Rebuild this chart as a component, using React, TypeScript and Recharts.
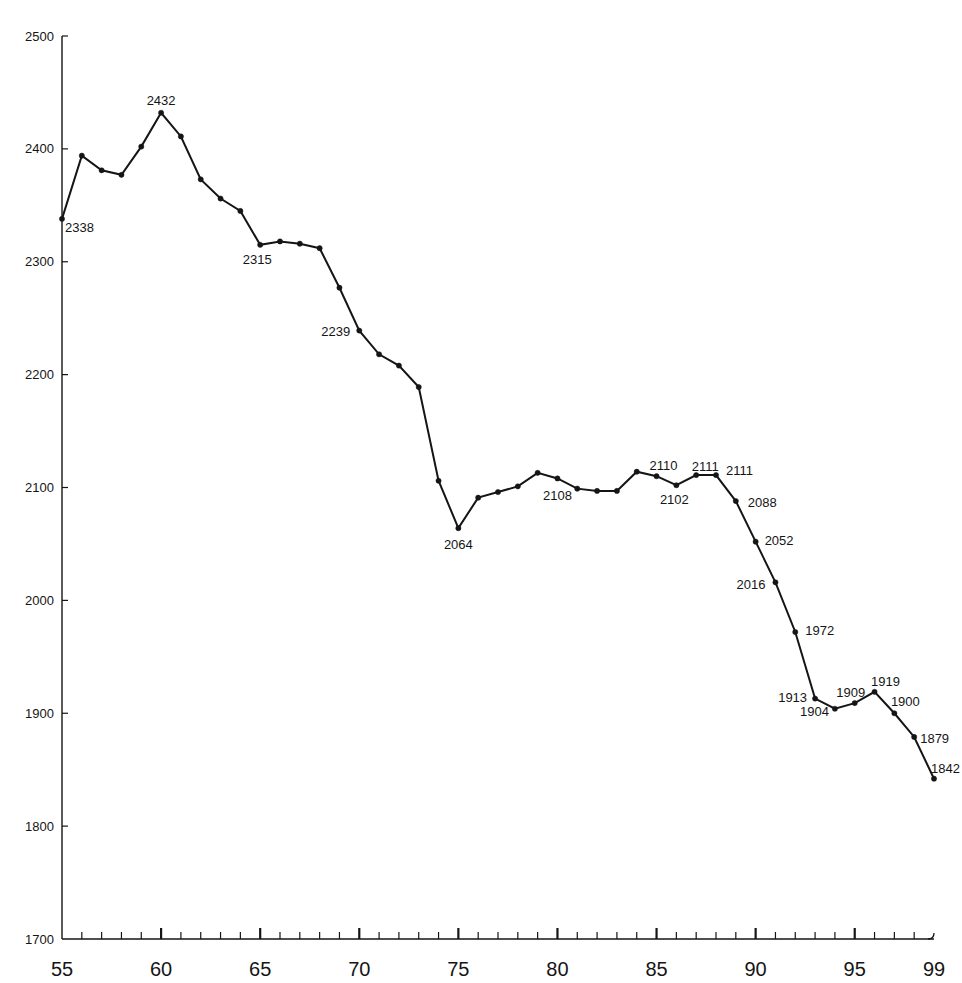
import { LineChart, Line, XAxis, YAxis, LabelList } from 'recharts';

const years = [
  55, 56, 57, 58, 59, 60, 61, 62, 63, 64,
  65, 66, 67, 68, 69, 70, 71, 72, 73, 74,
  75, 76, 77, 78, 79, 80, 81, 82, 83, 84,
  85, 86, 87, 88, 89, 90, 91, 92, 93, 94,
  95, 96, 97, 98, 99,
];

const values = [
  2338, 2394, 2381, 2377, 2402, 2432, 2411, 2373, 2356, 2345,
  2315, 2318, 2316, 2312, 2277, 2239, 2218, 2208, 2189, 2106,
  2064, 2091, 2096, 2101, 2113, 2108, 2099, 2097, 2097, 2114,
  2110, 2102, 2111, 2111, 2088, 2052, 2016, 1972, 1913, 1904,
  1909, 1919, 1900, 1879, 1842,
];

// years that carry a value label in the original
const labelledYears = [55, 60, 65, 70, 75, 80, 85, 86, 87, 88, 89, 90, 91, 92, 93, 94, 95, 96, 97, 98, 99];

const yTicks = [1700, 1800, 1900, 2000, 2100, 2200, 2300, 2400, 2500];
const xTickLabels = [55, 60, 65, 70, 75, 80, 85, 90, 95, 99];

const data = years.map((year, i) => ({ year, value: values[i] }));

const FONT = '"Liberation Sans", Arial, sans-serif';
const INK = '#151515';

// where each value label sits relative to its point: [dx, dy, anchor]
const placement: Record<number, [number, number, string]> = {
  55: [3, 9, 'start'],
  60: [0, -12, 'middle'],
  65: [-3, 15, 'middle'],
  70: [-9, 1, 'end'],
  75: [0, 16, 'middle'],
  80: [0, 17, 'middle'],
  85: [7, -11, 'middle'],
  86: [-2, 14, 'middle'],
  87: [9, -9, 'middle'],
  88: [10, -5, 'start'],
  89: [12, 1, 'start'],
  90: [9, -1, 'start'],
  91: [-10, 2, 'end'],
  92: [10, -1, 'start'],
  93: [-8, -1, 'end'],
  94: [-6, 3, 'end'],
  95: [-4, -11, 'middle'],
  96: [11, -10, 'middle'],
  97: [11, -12, 'middle'],
  98: [6, 2, 'start'],
  99: [-3, -10, 'start'],
};

const ValueLabel = (props: any) => {
  const { x, y, value, index } = props;
  const year = years[index];
  if (!labelledYears.includes(year)) return null;
  const [dx, dy, anchor] = placement[year] || [0, -10, 'middle'];
  return (
    <text
      x={x + dx}
      y={y + dy}
      textAnchor={anchor}
      dominantBaseline="central"
      fontSize={13}
      fontFamily={FONT}
      fill={INK}
    >
      {value}
    </text>
  );
};

const YearTick = (props: any) => {
  const { x, y, payload } = props;
  const year = payload.value;
  const major = year % 5 === 0;
  const showLabel = xTickLabels.includes(year);
  return (
    <g>
      {year === 99 ? (
        <path d={`M ${x - 6} ${y} Q ${x} ${y} ${x} ${y - 6}`} fill="none" stroke={INK} strokeWidth={1.3} />
      ) : year !== 55 ? (
        <line x1={x} y1={y} x2={x} y2={y - (major ? 11 : 7)} stroke={INK} strokeWidth={major ? 2.2 : 1.2} />
      ) : null}
      {showLabel && (
        <text x={x} y={y + 30} textAnchor="middle" dominantBaseline="central" fontSize={20} fontFamily={FONT} fill={INK}>
          {year}
        </text>
      )}
    </g>
  );
};

const ValueTick = (props: any) => {
  const { x, y, payload } = props;
  return (
    <g>
      {payload.value !== 1700 && (
        <line x1={x} y1={y} x2={x + 6} y2={y} stroke={INK} strokeWidth={1.2} />
      )}
      <text x={x - 8} y={y} textAnchor="end" dominantBaseline="central" fontSize={13} fontFamily={FONT} fill={INK}>
        {payload.value}
      </text>
    </g>
  );
};

export default function App() {
  return (
    <div style={{ position: 'absolute', left: 0, top: 0, width: 962, height: 983, background: '#fff' }}>
      <LineChart width={962} height={983} data={data} margin={{ top: 36, right: 28, bottom: 0, left: 0 }}>
        <XAxis
          dataKey="year"
          type="number"
          domain={[55, 99]}
          ticks={years}
          interval={0}
          height={44}
          tickSize={0}
          tickMargin={0}
          tickLine={false}
          axisLine={{ stroke: INK, strokeWidth: 1.4 }}
          tick={<YearTick />}
        />
        <YAxis
          type="number"
          domain={[1700, 2500]}
          ticks={yTicks}
          interval={0}
          width={62}
          tickSize={0}
          tickMargin={0}
          tickLine={false}
          axisLine={{ stroke: INK, strokeWidth: 1.4 }}
          tick={<ValueTick />}
        />
        <Line
          type="linear"
          dataKey="value"
          stroke={INK}
          strokeWidth={2}
          dot={{ r: 2.6, fill: INK, stroke: INK, strokeWidth: 0.5 }}
          isAnimationActive={false}
        >
          <LabelList dataKey="value" content={<ValueLabel />} />
        </Line>
      </LineChart>
    </div>
  );
}
